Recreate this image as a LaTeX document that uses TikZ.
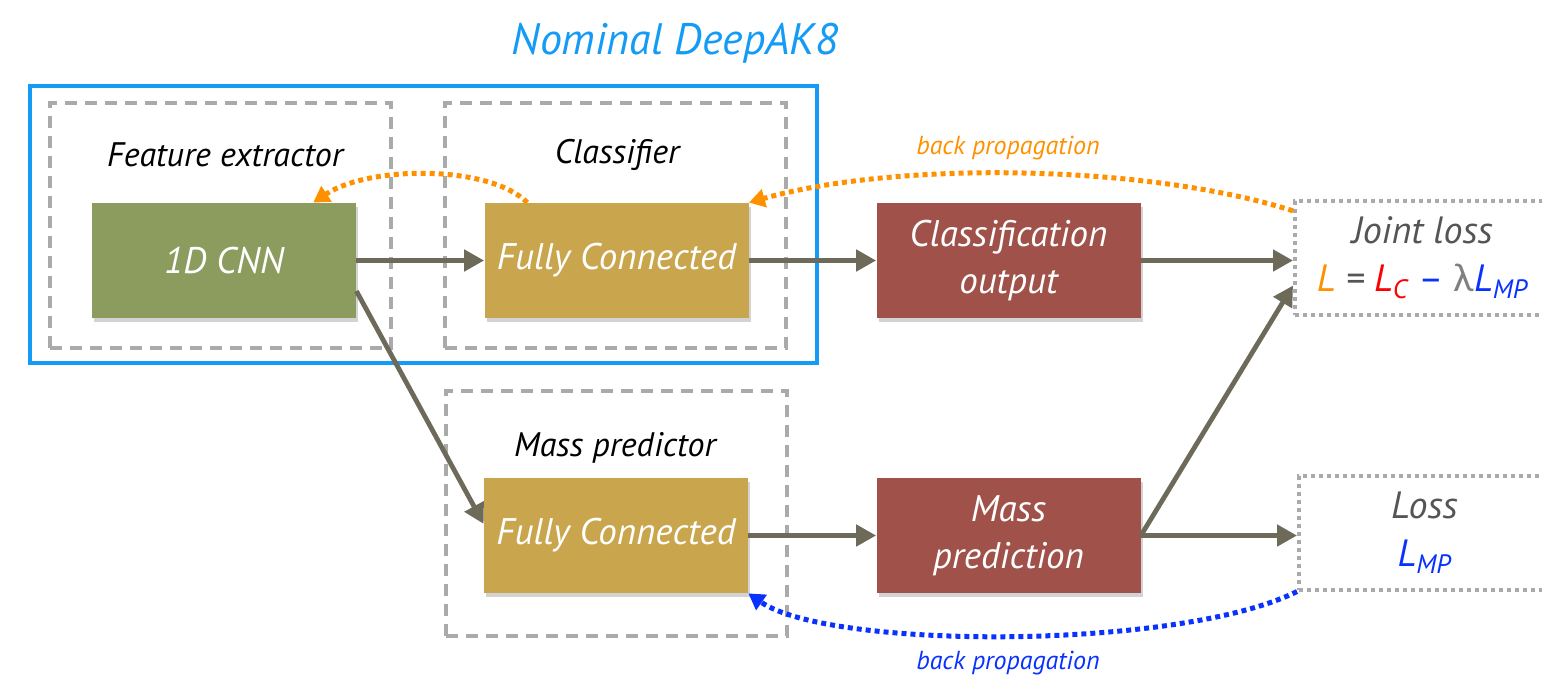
\documentclass[tikz,border=0pt]{standalone}
\usepackage{fontspec}
\setmainfont{PT Sans}
\newfontfamily\greekfont{Lato}
\usetikzlibrary{arrows.meta, shadows}
\usepackage{xcolor}
\definecolor{cnngreen}{RGB}{140,155,94}
\definecolor{fcgold}{RGB}{201,166,78}
\definecolor{outred}{RGB}{160,82,74}
\definecolor{arrowgray}{RGB}{110,106,90}
\definecolor{boxgray}{RGB}{170,170,170}
\definecolor{akblue}{RGB}{20,155,245}
\definecolor{bporange}{RGB}{255,145,0}
\definecolor{bpblue}{RGB}{10,50,255}
\definecolor{lossgray}{RGB}{85,85,85}

\begin{document}
\begin{tikzpicture}[x=0.5pt, y=-0.5pt, >={Triangle[length=10pt,width=10.5pt]}]
    \tikzstyle{block}=[rectangle, minimum width=132pt, minimum height=57.5pt, inner sep=0pt, text=white, align=center, font=\itshape\fontsize{18.5}{23.5}\selectfont, drop shadow={shadow xshift=1pt, shadow yshift=-2pt, opacity=.35}]
    \tikzstyle{group}=[rectangle, draw=boxgray, line width=2pt, dash pattern=on 6pt off 4pt, inner sep=0pt, minimum width=170.5pt, minimum height=122.5pt]
    \tikzstyle{lossbox}=[rectangle, draw=boxgray, line width=2pt, dash pattern=on 2pt off 2pt, inner sep=0pt, minimum height=57pt, align=center, text=lossgray, font=\itshape\fontsize{19}{24}\selectfont]
    \tikzstyle{flow}=[->, draw=arrowgray, line width=2.4pt]
    \tikzstyle{backprop}=[-{Triangle[length=8pt,width=9pt]}, line width=2.5pt, dash pattern=on 2.5pt off 2pt]
    \tikzstyle{annot}=[font=\itshape\fontsize{17}{20}\selectfont]

    \useasboundingbox (0,0) rectangle (1542,675);

%    groups
    \node[draw=akblue, line width=2pt, minimum width=393.5pt, minimum height=138.5pt, inner sep=0pt] (deepak) at (423.5,224.5) {};
    \node[text=akblue, font=\itshape\fontsize{22}{24}\selectfont] (title) at (675,43) {Nominal DeepAK8};
    \node[group] (fe) at (220.5,225.5) {};
    \node[group] (cl) at (615.5,225.5) {};
    \node[group] (mp) at (616.5,513.5) {};
    \node[annot] at (225,155) {Feature extractor};
    \node[annot] at (617,155) {Classifier};
    \node[annot] at (615,448) {Mass predictor};

%    blocks
    \node[block, fill=cnngreen] (cnn) at (224,260.5) {1D CNN};
    \node[block, fill=fcgold] (fcc) at (616.5,260.5) {Fully Connected};
    \node[block, fill=outred] (cout) at (1008.5,260.5) {Classification\\output};
    \node[block, fill=fcgold] (fcm) at (616,535.5) {Fully Connected};
    \node[block, fill=outred] (mpred) at (1008.5,535.5) {Mass\\prediction};

%    losses
    \node[lossbox, minimum width=127.5pt] (jloss) at (1422.5,258) {Joint loss\\{\color{bporange}L} {\color{lossgray}=} {\color{red}L\textsubscript{C}} {\color{bpblue}\upshape –} {\color{gray}\upshape\greekfont λ}{\color{bpblue}L\textsubscript{MP}}};
    \node[lossbox, minimum width=125.5pt] (loss) at (1424.5,532.5) {Loss\\{\color{bpblue}L\textsubscript{MP}}};

%    forward
    \draw[flow] (cnn.east) -- (fcc.west);
    \draw[flow] (fcc.east) -- (cout.west);
    \draw[flow] (cout.east) -- (cout.east -| jloss.west);
    \draw[flow] (cnn.-13) -- (fcm.175);
    \draw[flow] (fcm.east) -- (mpred.west);
    \draw[flow] (mpred.east) -- (mpred.east -| loss.west);
    \draw[flow] (mpred.east) -- (jloss.192);

%    back propagation
    \draw[backprop, bporange] (jloss.160) .. controls (1150,165) and (900,160) .. (fcc.north east);
    \draw[backprop, bporange] (fcc.147) .. controls (490,165) and (370,165) .. (cnn.33);
    \draw[backprop, bpblue] (loss.south west) .. controls (1180,650) and (830,650) .. (fcm.south east);
    \node[text=bporange, font=\itshape\fontsize{13}{15}\selectfont] (bpup) at (1008,148) {back propagation};
    \node[text=bpblue, font=\itshape\fontsize{13}{15}\selectfont] (bpdown) at (1008,663) {back propagation};
\end{tikzpicture}
\end{document}
